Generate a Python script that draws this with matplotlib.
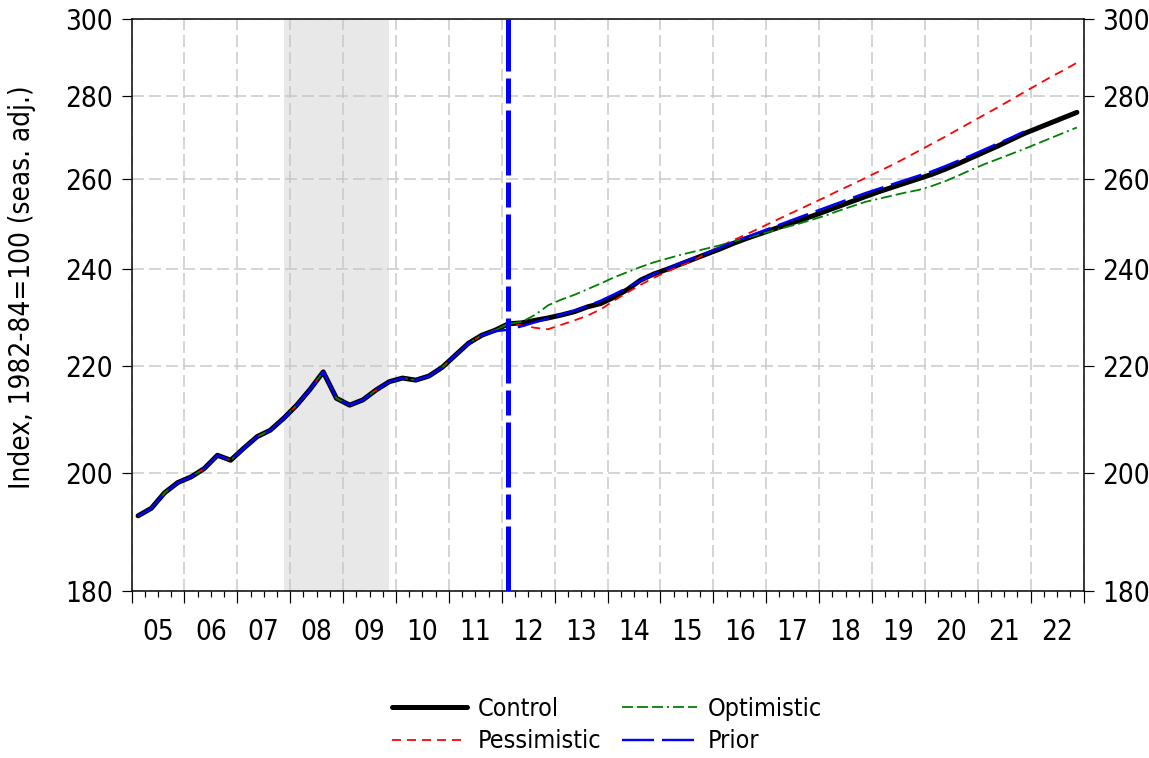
import numpy as np
import matplotlib
matplotlib.use("Agg")
import matplotlib.pyplot as plt
from matplotlib import font_manager as fm
from matplotlib.ticker import FixedLocator, FixedFormatter, NullLocator

# pick a narrow face if one is there
fonts = fm.fontManager.ttflist
fs = 20
if any(f.name == 'Liberation Sans Narrow' for f in fonts):
    plt.rcParams['font.family'] = ['Liberation Sans Narrow', 'DejaVu Sans']
elif any(f.name == 'DejaVu Sans' and 'condensed' in str(f.stretch) for f in fonts):
    plt.rcParams['font.family'] = ['DejaVu Sans']
    plt.rcParams['font.stretch'] = 'condensed'
else:
    plt.rcParams['font.family'] = ['Liberation Sans', 'DejaVu Sans']
    fs = 18
plt.rcParams['lines.scale_dashes'] = False

# quarterly CPI, 2005Q1 .. 2012Q1 (shared history)
history = [192.5, 193.8, 196.5, 198.3, 199.3, 200.8, 203.2, 202.3,
           204.5, 206.6, 207.8, 210.0, 212.5, 215.5, 218.9, 213.8,
           212.5, 213.5, 215.4, 217.0, 217.7, 217.3, 218.1, 219.8,
           222.2, 224.6, 226.2, 227.2, 228.5]

# scenarios, 2012Q2 .. 2022Q4
control_fc = [228.7, 229.2, 229.7, 230.3, 231.0, 232.0, 232.7, 234.0,
              235.6, 237.6, 238.9, 239.9, 241.0, 242.1, 243.2, 244.3,
              245.5, 246.6, 247.6, 248.6, 249.6, 250.6, 251.6, 252.7,
              253.8, 254.9, 256.0, 257.1, 258.1, 259.1, 260.1, 261.1,
              262.3, 263.6, 265.0, 266.4, 267.8, 269.3, 270.8, 272.1,
              273.4, 274.7, 276.0]
pessimistic_fc = [228.2, 227.7, 227.4, 228.3, 229.2, 230.2, 231.5, 233.3,
                  235.0, 236.6, 238.1, 239.4, 240.6, 241.8, 243.4, 244.9,
                  246.2, 247.5, 248.9, 250.3, 251.7, 253.1, 254.5, 255.9,
                  257.4, 258.8, 260.3, 261.8, 263.3, 264.9, 266.6, 268.3,
                  270.0, 271.8, 273.6, 275.4, 277.2, 279.1, 281.0, 282.9,
                  284.8, 286.6, 288.5]
optimistic_fc = [228.9, 230.3, 232.3, 233.5, 234.5, 235.7, 236.9, 238.2,
                 239.3, 240.4, 241.4, 242.2, 243.0, 243.7, 244.4, 245.1,
                 245.9, 246.7, 247.5, 248.3, 249.1, 249.9, 250.8, 251.7,
                 252.8, 253.8, 254.8, 255.5, 256.2, 256.9, 257.5, 258.4,
                 259.5, 260.8, 262.2, 263.5, 264.7, 265.9, 267.1, 268.4,
                 269.7, 271.0, 272.3]
# prior forecast, 2011Q4 .. 2021Q4 (history before that shared)
prior_fc = [227.0, 227.3, 228.0, 228.8, 229.6, 230.4, 231.2, 232.2,
            233.3, 234.6, 236.0, 237.5, 238.9, 240.0, 241.2, 242.3,
            243.4, 244.6, 245.8, 246.9, 248.0, 249.1, 250.2, 251.3,
            252.4, 253.5, 254.6, 255.7, 256.8, 257.8, 258.8, 259.8,
            260.8, 261.8, 263.0, 264.3, 265.6, 267.0, 268.4, 269.8,
            271.3]

years = list(range(2005, 2023))
year_labels = [f"{y % 100:02d}" for y in years]
y_ticks = [180, 200, 220, 240, 260, 280, 300]
recession = (2007.875, 2009.875)
forecast_start = 28  # quarter index of 2012Q1

px = 0.72  # pixels -> points at 100 dpi


def qx(n, start=0):
    return 2005 + (np.arange(start, start + n) + 0.5) / 4


control = history + control_fc
pessimistic = history + pessimistic_fc
optimistic = history + optimistic_fc
prior = history[:27] + prior_fc

fig = plt.figure(figsize=(11.49, 7.58), dpi=100)
ax = fig.add_axes([131.5 / 1149, 1 - 591 / 758, 952 / 1149, 572 / 758])

ax.axvspan(*recession, color='#e8e8e8', lw=0, zorder=0)

ax.plot(qx(len(control)), control, color='black', lw=5 * px,
        solid_capstyle='round', label='Control', zorder=3)
ax.plot(qx(len(pessimistic)), pessimistic, color='red', lw=1.8 * px,
        dashes=(9 * px, 6 * px), label='Pessimistic', zorder=4)
ax.plot(qx(len(optimistic)), optimistic, color='green', lw=1.8 * px,
        dashes=(11 * px, 4 * px, 11 * px, 4 * px, 11 * px, 4 * px, 2 * px, 4 * px),
        label='Optimistic', zorder=4)
ax.plot(qx(len(prior)), prior, color='blue', lw=2.4 * px,
        dashes=(32 * px, 8 * px), label='Prior', zorder=5)

fx = qx(1, forecast_start)[0]
ax.axvline(fx, color='blue', lw=5 * px,
           dashes=(65 * px, 7 * px, 25 * px, 7 * px), zorder=6)

ax.set_yscale('log')
ax.set_ylim(180, 300)
ax.set_xlim(2005, 2023)
ax.yaxis.set_major_locator(FixedLocator(y_ticks))
ax.yaxis.set_major_formatter(FixedFormatter([str(v) for v in y_ticks]))
ax.yaxis.set_minor_locator(NullLocator())

ax.xaxis.set_major_locator(FixedLocator(list(range(2005, 2024))))
ax.xaxis.set_minor_locator(FixedLocator(list(np.arange(2005, 2023.01, 0.25))))
ax.xaxis.set_major_formatter(FixedFormatter([''] * 19))

ax.grid(which='major', color='#c8c8c8', lw=1.5 * px,
        linestyle=(0, (12 * px, 5 * px)), zorder=1)
ax.set_axisbelow(True)

ax.tick_params(axis='y', which='major', direction='out', length=10 * px,
               width=1.2 * px, labelsize=fs, left=True, right=True,
               labelleft=True, labelright=True, pad=6)
ax.tick_params(axis='x', which='major', direction='out', length=12 * px,
               width=1.2 * px)
ax.tick_params(axis='x', which='minor', direction='out', length=6 * px,
               width=1.2 * px)
for s in ax.spines.values():
    s.set_linewidth(1.5 * px)

for y, lab in zip(years, year_labels):
    ax.annotate(lab, xy=(y + 0.5, 0), xycoords=('data', 'axes fraction'),
                xytext=(0, -41 * px), textcoords='offset points',
                ha='center', va='center', fontsize=fs)

ax.set_ylabel('Index, 1982-84=100 (seas. adj.)', fontsize=fs)
ax.yaxis.set_label_coords(-0.1, 0.531)

fig.legend(loc='center', bbox_to_anchor=(607 / 1149, 1 - 725 / 758),
           ncol=2, frameon=False, fontsize=18, handlelength=3.0,
           handletextpad=0.45, columnspacing=0.8, labelspacing=0.35)

fig.savefig('out.png', dpi=100)
